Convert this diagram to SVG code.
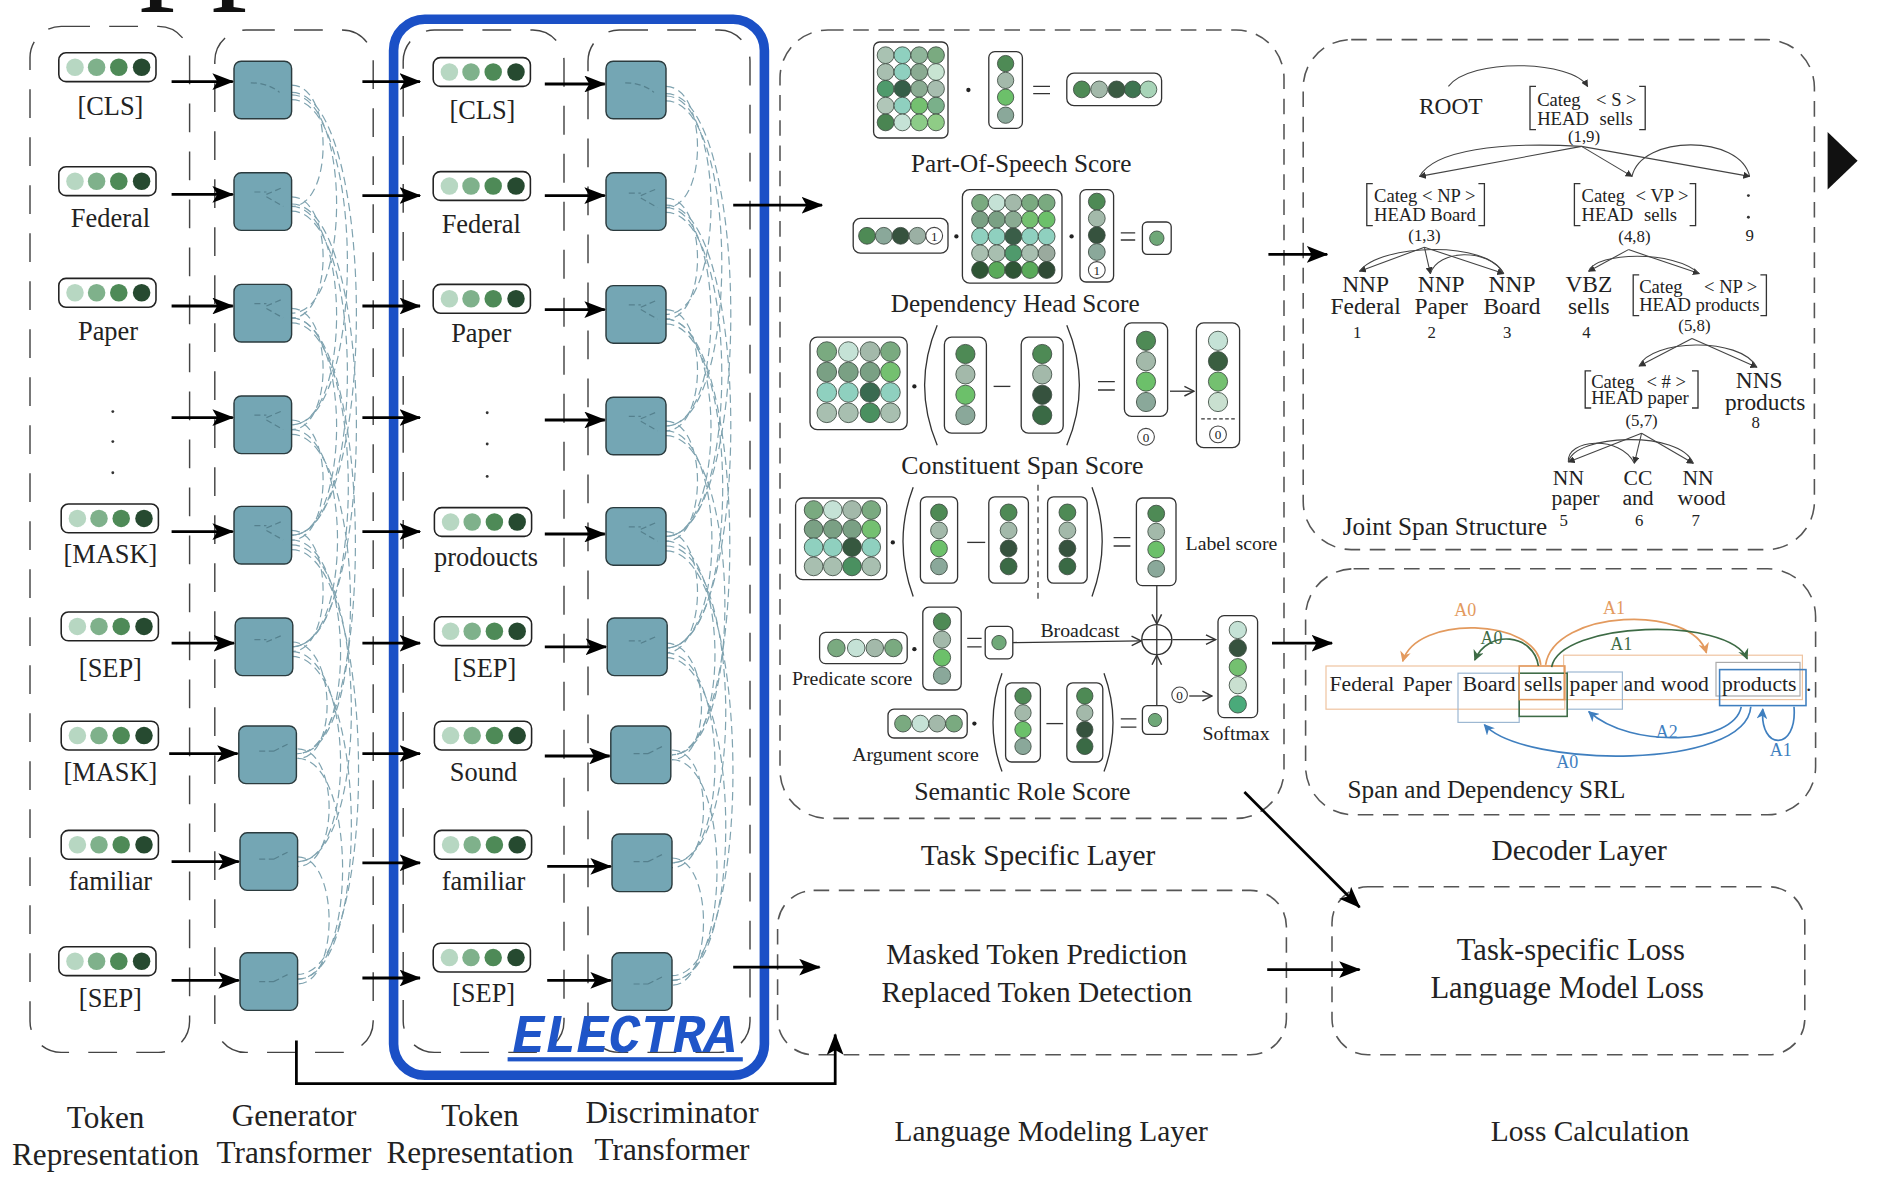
<svg xmlns="http://www.w3.org/2000/svg" width="1882" height="1184" viewBox="0 0 1882 1184">
<style>
text{font-family:"Liberation Serif","Times New Roman",serif;fill:#222}
.t22{font-size:22px}
.t26{font-size:26px;text-anchor:middle}
.t25{font-size:24.5px;text-anchor:middle}
.t21{font-size:21px}
.t16{font-size:16.5px}
.t19{font-size:19.5px;text-anchor:middle}
.t18{font-size:18px;text-anchor:middle}
.t15{font-size:15.5px}
.t14{font-size:14px;text-anchor:middle}
.sw{font-size:18px}
.mid{text-anchor:middle}
.colbox{fill:none;stroke:#444;stroke-width:1.2;stroke-dasharray:24 16}
.dbox{fill:none;stroke:#555;stroke-width:1.3;stroke-dasharray:13 8}
.arw{stroke:#000;stroke-width:2.3;fill:none;marker-end:url(#ah)}
.vb{fill:#fff;stroke:#333;stroke-width:1.1}
.c{stroke:#3c4a40;stroke-width:0.7}
.sq{fill:#74a6b4;stroke:#2b3b3e;stroke-width:1.2}
.fan{fill:none;stroke:#7fa3b0;stroke-width:1;stroke-dasharray:7 4}
.inn{fill:none;stroke:#55808d;stroke-width:1;stroke-dasharray:5 3}
.ln{stroke:#333;stroke-width:1.1;fill:none}
.sa{stroke:#333;stroke-width:1.1;fill:none;marker-end:url(#ch)}
.tl{stroke:#444;stroke-width:0.9;fill:none}
.tla{stroke:#444;stroke-width:0.9;fill:none;marker-end:url(#ta)}
.br{stroke:#333;stroke-width:1.1;fill:none}
.cn{fill:#fff;stroke:#444;stroke-width:0.9}
.or{stroke:#e39a5e;stroke-width:1.4;fill:none;marker-end:url(#mo)}
.gr{stroke:#3d6b45;stroke-width:1.4;fill:none;marker-end:url(#mg)}
.bl{stroke:#3f7fbf;stroke-width:1.4;fill:none;marker-end:url(#mb)}
</style>
<defs>
<marker id="ah" viewBox="0 0 18 14" refX="17" refY="7" markerWidth="18" markerHeight="14" markerUnits="userSpaceOnUse" orient="auto"><path d="M0,0 L18,7 L0,14 L4,7 z" fill="#000"/></marker>
<marker id="ch" viewBox="0 0 10 10" refX="9" refY="5" markerWidth="10" markerHeight="10" markerUnits="userSpaceOnUse" orient="auto"><path d="M1,1 L9,5 L1,9" fill="none" stroke="#333" stroke-width="1.2"/></marker>
<marker id="ta" viewBox="0 0 8 8" refX="7" refY="4" markerWidth="6" markerHeight="6" markerUnits="userSpaceOnUse" orient="auto"><path d="M0,0 L8,4 L0,8 z" fill="#333"/></marker>
<marker id="mo" viewBox="0 0 10 10" refX="9" refY="5" markerWidth="9" markerHeight="9" markerUnits="userSpaceOnUse" orient="auto"><path d="M0,0 L10,5 L0,10 L3,5 z" fill="#e39a5e"/></marker>
<marker id="mg" viewBox="0 0 10 10" refX="9" refY="5" markerWidth="9" markerHeight="9" markerUnits="userSpaceOnUse" orient="auto"><path d="M0,0 L10,5 L0,10 L3,5 z" fill="#3d6b45"/></marker>
<marker id="mb" viewBox="0 0 10 10" refX="9" refY="5" markerWidth="9" markerHeight="9" markerUnits="userSpaceOnUse" orient="auto"><path d="M0,0 L10,5 L0,10 L3,5 z" fill="#3f7fbf"/></marker>
<g id="tv"><rect x="0" y="0" width="81" height="24" rx="6" fill="#fff" stroke="#222" stroke-width="1.3"/><circle cx="13.5" cy="12" r="7.3" fill="#b7d7c2"/><circle cx="31.5" cy="12" r="7.3" fill="#7fb18b"/><circle cx="50" cy="12" r="7.3" fill="#4e8a57"/><circle cx="69" cy="12" r="7.3" fill="#264a30"/></g>
<g id="fan">
<path class="fan" d="M243,71 C278,71 278,172 243,172"/>
<path class="fan" d="M243,164 C278,164 278,265 243,265"/>
<path class="fan" d="M243,257 C278,257 278,358 243,358"/>
<path class="fan" d="M243,350 C278,350 278,450 243,450"/>
<path class="fan" d="M243,442 C278,442 278,543 243,543"/>
<path class="fan" d="M243,535 C280,535 283,632 248,632"/>
<path class="fan" d="M248,624 C283,624 283,722 248,722"/>
<path class="fan" d="M248,714 C283,714 283,820 248,820"/>
<path class="fan" d="M243,79 C293,79 293,261 243,261"/>
<path class="fan" d="M243,172 C293,172 293,354 243,354"/>
<path class="fan" d="M243,265 C293,265 293,446 243,446"/>
<path class="fan" d="M243,358 C293,358 295,539 243,539"/>
<path class="fan" d="M243,450 C295,450 298,628 248,628"/>
<path class="fan" d="M243,543 C295,543 298,718 248,718"/>
<path class="fan" d="M248,632 C298,632 298,816 248,816"/>
<path class="fan" d="M243,83 C305,83 305,354 243,354"/>
<path class="fan" d="M243,176 C305,176 305,446 243,446"/>
<path class="fan" d="M243,269 C305,269 307,539 243,539"/>
<path class="fan" d="M243,362 C305,362 310,628 248,628"/>
<path class="fan" d="M243,454 C307,454 310,718 248,718"/>
<path class="fan" d="M243,547 C307,547 310,816 248,816"/>
<path class="fan" d="M243,77 C315,77 315,446 243,446"/>
<path class="fan" d="M243,170 C315,170 315,539 243,539"/>
<path class="fan" d="M243,458 C315,458 318,812 248,812"/>
<path class="fan" d="M243,265 C312,265 314,628 248,628"/>
</g>
</defs>
<rect width="1882" height="1184" fill="#fff"/>
<g transform="scale(1.2)">

<g id="title-fragment"><text x="116" y="-16" style="font-size:120px;fill:#111">pp</text></g>

<!-- column containers -->
<g id="col-token-rep-1"><rect class="colbox" x="25" y="22" width="133" height="855" rx="26"/></g>
<g id="col-generator"><rect class="colbox" x="179" y="25" width="132" height="852" rx="26"/></g>
<g id="col-token-rep-2"><rect class="colbox" x="336" y="25" width="134" height="852" rx="26"/></g>
<g id="col-discriminator"><rect class="colbox" x="490" y="25" width="135" height="852" rx="26"/></g>

<!-- fans -->
<g id="generator-attention"><use href="#fan"/></g>
<g id="discriminator-attention"><use href="#fan" x="312" y="1"/></g>

<!-- token representation 1 -->
<g id="tok1-cls"><use href="#tv" x="49" y="44"/><text class="t22 mid" x="92" y="96">[CLS]</text></g>
<g id="tok1-federal"><use href="#tv" x="49" y="139"/><text class="t22 mid" x="92" y="189">Federal</text></g>
<g id="tok1-paper"><use href="#tv" x="49" y="232"/><text class="t22 mid" x="90" y="283">Paper</text></g>
<g id="tok1-dots"><circle cx="94" cy="343" r="1.2" fill="#333"/><circle cx="94" cy="368" r="1.2" fill="#333"/><circle cx="94" cy="394" r="1.2" fill="#333"/></g>
<g id="tok1-mask1"><use href="#tv" x="51" y="420"/><text class="t22 mid" x="92" y="469">[MASK]</text></g>
<g id="tok1-sep1"><use href="#tv" x="51" y="510"/><text class="t22 mid" x="92" y="564">[SEP]</text></g>
<g id="tok1-mask2"><use href="#tv" x="51" y="601"/><text class="t22 mid" x="92" y="651">[MASK]</text></g>
<g id="tok1-familiar"><use href="#tv" x="51" y="692"/><text class="t22 mid" x="92" y="742">familiar</text></g>
<g id="tok1-sep2"><use href="#tv" x="49" y="789"/><text class="t22 mid" x="92" y="839">[SEP]</text></g>

<!-- generator squares -->
<g id="gen-squares">
<rect class="sq" x="195" y="51" width="48" height="48" rx="6"/>
<rect class="sq" x="195" y="144" width="48" height="48" rx="6"/>
<rect class="sq" x="195" y="237" width="48" height="48" rx="6"/>
<rect class="sq" x="195" y="330" width="48" height="48" rx="6"/>
<rect class="sq" x="195" y="422" width="48" height="48" rx="6"/>
<rect class="sq" x="196" y="515" width="48" height="48" rx="6"/>
<rect class="sq" x="199" y="605" width="48" height="48" rx="6"/>
<rect class="sq" x="200" y="694" width="48" height="48" rx="6"/>
<rect class="sq" x="200" y="794" width="48" height="48" rx="6"/>
<path class="inn" d="M209,69 q14,0 24,8 M212,160 h10 M222,162 l14,-6 M222,164 l14,8 M212,253 h10 M222,255 l14,-6 M222,257 l14,8 M212,346 h10 M222,348 l14,-6 M222,350 l14,8 M212,438 h10 M222,440 l14,-6 M222,442 l14,8 M212,533 h10 M222,535 l14,-6 M216,626 h12 M228,626 l14,-7 M216,716 h12 M228,716 l14,-7 M216,818 h12 M228,818 l14,-7"/>
</g>

<!-- token representation 2 -->
<g id="tok2-cls"><use href="#tv" x="361" y="48"/><text class="t22 mid" x="402" y="99">[CLS]</text></g>
<g id="tok2-federal"><use href="#tv" x="361" y="143"/><text class="t22 mid" x="401" y="194">Federal</text></g>
<g id="tok2-paper"><use href="#tv" x="361" y="237"/><text class="t22 mid" x="401" y="285">Paper</text></g>
<g id="tok2-dots"><circle cx="406" cy="344" r="1.2" fill="#333"/><circle cx="406" cy="370" r="1.2" fill="#333"/><circle cx="406" cy="397" r="1.2" fill="#333"/></g>
<g id="tok2-prodoucts"><use href="#tv" x="362" y="423"/><text class="t22 mid" x="405" y="472">prodoucts</text></g>
<g id="tok2-sep1"><use href="#tv" x="362" y="514"/><text class="t22 mid" x="404" y="564">[SEP]</text></g>
<g id="tok2-sound"><use href="#tv" x="362" y="601"/><text class="t22 mid" x="403" y="651">Sound</text></g>
<g id="tok2-familiar"><use href="#tv" x="362" y="692"/><text class="t22 mid" x="403" y="742">familiar</text></g>
<g id="tok2-sep2"><use href="#tv" x="361" y="786"/><text class="t22 mid" x="403" y="835">[SEP]</text></g>

<!-- discriminator squares -->
<g id="disc-squares">
<rect class="sq" x="505" y="51" width="50" height="48" rx="6"/>
<rect class="sq" x="505" y="144" width="50" height="48" rx="6"/>
<rect class="sq" x="505" y="238" width="50" height="48" rx="6"/>
<rect class="sq" x="505" y="331" width="50" height="48" rx="6"/>
<rect class="sq" x="505" y="423" width="50" height="48" rx="6"/>
<rect class="sq" x="506" y="515" width="50" height="48" rx="6"/>
<rect class="sq" x="509" y="605" width="50" height="48" rx="6"/>
<rect class="sq" x="510" y="695" width="50" height="48" rx="6"/>
<rect class="sq" x="510" y="794" width="50" height="48" rx="6"/>
<path class="inn" d="M521,69 q14,0 24,8 M524,161 h10 M534,163 l14,-6 M534,165 l14,8 M524,254 h10 M534,256 l14,-6 M534,258 l14,8 M524,347 h10 M534,349 l14,-6 M534,351 l14,8 M524,439 h10 M534,441 l14,-6 M534,443 l14,8 M524,534 h10 M534,536 l14,-6 M528,628 h12 M540,628 l14,-7 M528,718 h12 M540,718 l14,-7 M528,820 h12 M540,820 l14,-7"/>
</g>

<!-- ELECTRA frame -->
<g id="electra">
<rect x="328" y="16" width="309" height="880" rx="26" fill="none" stroke="#1b50c6" stroke-width="8"/>
<text x="427" y="877" textLength="187" lengthAdjust="spacingAndGlyphs" style="font-family:'Liberation Mono','DejaVu Sans Mono',monospace;font-weight:bold;font-style:italic;font-size:45px;fill:#1f55c8">ELECTRA</text>
<rect x="423" y="881" width="196" height="3.5" fill="#1f55c8"/>
</g>

<!-- bottom column labels -->
<g id="labels-bottom">
<text class="t26" x="88" y="940">Token</text><text class="t26" x="88" y="971">Representation</text>
<text class="t26" x="245" y="938">Generator</text><text class="t26" x="245" y="969">Transformer</text>
<text class="t26" x="400" y="938">Token</text><text class="t26" x="400" y="969">Representation</text>
<text class="t26" x="560" y="936">Discriminator</text><text class="t26" x="560" y="967">Transformer</text>
</g>

<!-- Task specific layer -->
<g id="task-specific-layer">
<rect class="dbox" x="650" y="25" width="420" height="657" rx="40"/>
<text class="t25" x="865" y="721">Task Specific Layer</text>

<!-- POS -->
<g id="pos-score">
<rect class="vb" x="728" y="35" width="62" height="80" rx="5"/>
<circle class="c" cx="738" cy="46" r="7" fill="#a9c2b2"/><circle class="c" cx="752" cy="46" r="7" fill="#8fd0bf"/><circle class="c" cx="766" cy="46" r="7" fill="#8fb59a"/><circle class="c" cx="780" cy="46" r="7" fill="#7aaa80"/>
<circle class="c" cx="738" cy="60" r="7" fill="#a8bfb0"/><circle class="c" cx="752" cy="60" r="7" fill="#8fd0bf"/><circle class="c" cx="766" cy="60" r="7" fill="#8aab92"/><circle class="c" cx="780" cy="60" r="7" fill="#c8e4d2"/>
<circle class="c" cx="738" cy="74" r="7" fill="#4f9a6c"/><circle class="c" cx="752" cy="74" r="7" fill="#355e48"/><circle class="c" cx="766" cy="74" r="7" fill="#8aab92"/><circle class="c" cx="780" cy="74" r="7" fill="#a7bdaf"/>
<circle class="c" cx="738" cy="88" r="7" fill="#b0c6b8"/><circle class="c" cx="752" cy="88" r="7" fill="#8fd0bf"/><circle class="c" cx="766" cy="88" r="7" fill="#74c070"/><circle class="c" cx="780" cy="88" r="7" fill="#7ab08a"/>
<circle class="c" cx="738" cy="102" r="7" fill="#4a8552"/><circle class="c" cx="752" cy="102" r="7" fill="#c5e2d6"/><circle class="c" cx="766" cy="102" r="7" fill="#8ccc88"/><circle class="c" cx="780" cy="102" r="7" fill="#8fcc86"/>
<circle cx="807" cy="75" r="1.8" fill="#222"/>
<rect class="vb" x="824" y="43" width="28" height="64" rx="5"/>
<circle class="c" cx="838" cy="53" r="6.8" fill="#4e8a55"/><circle class="c" cx="838" cy="67" r="6.8" fill="#a3b9aa"/><circle class="c" cx="838" cy="81" r="6.8" fill="#6cc06a"/><circle class="c" cx="838" cy="96" r="6.8" fill="#8aa89a"/>
<path class="ln" d="M861,72H875 M861,78H875"/>
<rect class="vb" x="889" y="61" width="79" height="27" rx="6"/>
<circle class="c" cx="901.5" cy="74.5" r="7" fill="#4e8a55"/><circle class="c" cx="916" cy="74.5" r="7" fill="#a3b9aa"/><circle class="c" cx="930.5" cy="74.5" r="7" fill="#3a5a42"/><circle class="c" cx="944" cy="74.5" r="7" fill="#3e7450"/><circle class="c" cx="957" cy="74.5" r="7" fill="#a8d4b8"/>
<text class="t21 mid" x="851" y="143">Part-Of-Speech Score</text>
</g>

<!-- Dependency -->
<g id="dep-score">
<rect class="vb" x="711" y="182" width="79" height="29" rx="6"/>
<circle class="c" cx="722.5" cy="196.5" r="7" fill="#4e8a55"/><circle class="c" cx="736.5" cy="196.5" r="7" fill="#8aa89a"/><circle class="c" cx="750.5" cy="196.5" r="7" fill="#36523e"/><circle class="c" cx="764.5" cy="196.5" r="7" fill="#9bb0a4"/>
<circle class="cn" cx="778.5" cy="196.5" r="7"/><text x="778.5" y="200.5" class="mid" style="font-size:11px">1</text>
<circle cx="797" cy="197" r="1.8" fill="#222"/>
<rect class="vb" x="802" y="158" width="83" height="78" rx="6"/>
<circle class="c" cx="816.7" cy="169" r="7" fill="#7aaa80"/><circle class="c" cx="830.6" cy="169" r="7" fill="#c5e2d6"/><circle class="c" cx="844.4" cy="169" r="7" fill="#a3b9aa"/><circle class="c" cx="858.3" cy="169" r="7" fill="#7aaa80"/><circle class="c" cx="872.2" cy="169" r="7" fill="#7aaa80"/>
<circle class="c" cx="816.7" cy="183" r="7" fill="#7aa084"/><circle class="c" cx="830.6" cy="183" r="7" fill="#7aa084"/><circle class="c" cx="844.4" cy="183" r="7" fill="#8aab92"/><circle class="c" cx="858.3" cy="183" r="7" fill="#74c070"/><circle class="c" cx="872.2" cy="183" r="7" fill="#6cc06a"/>
<circle class="c" cx="816.7" cy="197" r="7" fill="#8fd0bf"/><circle class="c" cx="830.6" cy="197" r="7" fill="#8fd0bf"/><circle class="c" cx="844.4" cy="197" r="7" fill="#3a5e48"/><circle class="c" cx="858.3" cy="197" r="7" fill="#8fd0bf"/><circle class="c" cx="872.2" cy="197" r="7" fill="#8fd0bf"/>
<circle class="c" cx="816.7" cy="211" r="7" fill="#a8bfb0"/><circle class="c" cx="830.6" cy="211" r="7" fill="#a8bfb0"/><circle class="c" cx="844.4" cy="211" r="7" fill="#4f9a6c"/><circle class="c" cx="858.3" cy="211" r="7" fill="#a8bfb0"/><circle class="c" cx="872.2" cy="211" r="7" fill="#9aaa9e"/>
<circle class="c" cx="816.7" cy="225" r="7" fill="#2f5535"/><circle class="c" cx="830.6" cy="225" r="7" fill="#5aaa5a"/><circle class="c" cx="844.4" cy="225" r="7" fill="#2f5535"/><circle class="c" cx="858.3" cy="225" r="7" fill="#5aaa5a"/><circle class="c" cx="872.2" cy="225" r="7" fill="#2f4a35"/>
<circle cx="893" cy="197" r="1.8" fill="#222"/>
<rect class="vb" x="900" y="158" width="28" height="77" rx="5"/>
<circle class="c" cx="914" cy="168" r="7" fill="#4e8a55"/><circle class="c" cx="914" cy="182" r="7" fill="#a3b9aa"/><circle class="c" cx="914" cy="196" r="7" fill="#36523e"/><circle class="c" cx="914" cy="210" r="7" fill="#8aa89a"/>
<circle class="cn" cx="914" cy="225" r="7"/><text x="914" y="229" class="mid" style="font-size:11px">1</text>
<path class="ln" d="M934,194H946 M934,200H946"/>
<rect class="vb" x="952" y="185" width="24" height="27" rx="4"/>
<circle class="c" cx="964" cy="198.5" r="6" fill="#6fa878"/>
<text class="t21 mid" x="846" y="260">Dependency Head Score</text>
</g>

<!-- Constituent -->
<g id="constituent-score">
<rect class="vb" x="675" y="281" width="81" height="77" rx="6"/>
<circle class="c" cx="689" cy="293" r="8.2" fill="#7aaa80"/><circle class="c" cx="707" cy="293" r="8.2" fill="#c5e2d6"/><circle class="c" cx="725" cy="293" r="8.2" fill="#a3b9aa"/><circle class="c" cx="742" cy="293" r="8.2" fill="#7aaa80"/>
<circle class="c" cx="689" cy="310" r="8.2" fill="#7aa084"/><circle class="c" cx="707" cy="310" r="8.2" fill="#7aa084"/><circle class="c" cx="725" cy="310" r="8.2" fill="#7aa084"/><circle class="c" cx="742" cy="310" r="8.2" fill="#74c070"/>
<circle class="c" cx="689" cy="327" r="8.2" fill="#8fd0bf"/><circle class="c" cx="707" cy="327" r="8.2" fill="#8fd0bf"/><circle class="c" cx="725" cy="327" r="8.2" fill="#3a6a50"/><circle class="c" cx="742" cy="327" r="8.2" fill="#8fd0bf"/>
<circle class="c" cx="689" cy="344" r="8.2" fill="#a8bfb0"/><circle class="c" cx="707" cy="344" r="8.2" fill="#a8bfb0"/><circle class="c" cx="725" cy="344" r="8.2" fill="#4a9060"/><circle class="c" cx="742" cy="344" r="8.2" fill="#a8bfb0"/>
<circle cx="762" cy="322" r="1.8" fill="#222"/>
<path class="ln" d="M781,271 Q760,321 781,371"/>
<rect class="vb" x="787" y="281" width="35" height="80" rx="6"/>
<circle class="c" cx="804.5" cy="295" r="8" fill="#4e8a55"/><circle class="c" cx="804.5" cy="312" r="8" fill="#a3b9aa"/><circle class="c" cx="804.5" cy="329" r="8" fill="#6cc06a"/><circle class="c" cx="804.5" cy="346" r="8" fill="#8aa89a"/>
<path class="ln" d="M828,322H842"/>
<rect class="vb" x="851" y="281" width="35" height="80" rx="6"/>
<circle class="c" cx="868.5" cy="295" r="8" fill="#4e8a55"/><circle class="c" cx="868.5" cy="312" r="8" fill="#a3b9aa"/><circle class="c" cx="868.5" cy="329" r="8" fill="#36523e"/><circle class="c" cx="868.5" cy="346" r="8" fill="#3a6a45"/>
<path class="ln" d="M889,271 Q910,321 889,371"/>
<path class="ln" d="M915,318H929 M915,325H929"/>
<rect class="vb" x="937" y="269" width="36" height="78" rx="6"/>
<circle class="c" cx="955" cy="284" r="8" fill="#4e8a55"/><circle class="c" cx="955" cy="301" r="8" fill="#a3b9aa"/><circle class="c" cx="955" cy="318" r="8" fill="#6cc06a"/><circle class="c" cx="955" cy="335" r="8" fill="#8aa89a"/>
<circle class="cn" cx="955" cy="364" r="7"/><text x="955" y="368" class="mid" style="font-size:11px">0</text>
<path class="sa" d="M975,326H995"/>
<rect class="vb" x="997" y="269" width="36" height="104" rx="6"/>
<circle class="c" cx="1015" cy="284" r="8" fill="#c5e2d6"/><circle class="c" cx="1015" cy="301" r="8" fill="#3a5e40"/><circle class="c" cx="1015" cy="318" r="8" fill="#74c070"/><circle class="c" cx="1015" cy="335" r="8" fill="#c9e0d0"/>
<path d="M1001,349H1029" stroke="#333" stroke-width="1" stroke-dasharray="3 2"/>
<circle class="cn" cx="1015" cy="362" r="7"/><text x="1015" y="366" class="mid" style="font-size:11px">0</text>
<text class="mid" x="852" y="395" style="font-size:21.5px">Constituent Span Score</text>
</g>

<!-- Semantic Role -->
<g id="semantic-role-score">
<rect class="vb" x="663" y="415" width="76" height="68" rx="6"/>
<circle class="c" cx="678" cy="425" r="7.8" fill="#7aaa80"/><circle class="c" cx="694" cy="425" r="7.8" fill="#c5e2d6"/><circle class="c" cx="710" cy="425" r="7.8" fill="#a3b9aa"/><circle class="c" cx="726" cy="425" r="7.8" fill="#7aaa80"/>
<circle class="c" cx="678" cy="441" r="7.8" fill="#7aa084"/><circle class="c" cx="694" cy="441" r="7.8" fill="#7aa084"/><circle class="c" cx="710" cy="441" r="7.8" fill="#7aa084"/><circle class="c" cx="726" cy="441" r="7.8" fill="#74c070"/>
<circle class="c" cx="678" cy="456" r="7.8" fill="#8fd0bf"/><circle class="c" cx="694" cy="456" r="7.8" fill="#8fd0bf"/><circle class="c" cx="710" cy="456" r="7.8" fill="#36583f"/><circle class="c" cx="726" cy="456" r="7.8" fill="#8fd0bf"/>
<circle class="c" cx="678" cy="472" r="7.8" fill="#a8bfb0"/><circle class="c" cx="694" cy="472" r="7.8" fill="#a8bfb0"/><circle class="c" cx="710" cy="472" r="7.8" fill="#4a9060"/><circle class="c" cx="726" cy="472" r="7.8" fill="#a8bfb0"/>
<circle cx="744" cy="452" r="1.8" fill="#222"/>
<path class="ln" d="M761,406 Q744,451 761,497"/>
<rect class="vb" x="767" y="414" width="31" height="72" rx="5"/>
<circle class="c" cx="782.5" cy="427" r="7" fill="#4e8a55"/><circle class="c" cx="782.5" cy="442" r="7" fill="#a3b9aa"/><circle class="c" cx="782.5" cy="457" r="7" fill="#6cc06a"/><circle class="c" cx="782.5" cy="472" r="7" fill="#8aa89a"/>
<path class="ln" d="M806,452H821"/>
<rect class="vb" x="824" y="414" width="33" height="72" rx="5"/>
<circle class="c" cx="840.5" cy="427" r="7" fill="#4e8a55"/><circle class="c" cx="840.5" cy="442" r="7" fill="#a3b9aa"/><circle class="c" cx="840.5" cy="457" r="7" fill="#36523e"/><circle class="c" cx="840.5" cy="472" r="7" fill="#3a6a45"/>
<path d="M865,404V500" stroke="#333" stroke-width="1" stroke-dasharray="5 4"/>
<rect class="vb" x="873" y="414" width="33" height="72" rx="5"/>
<circle class="c" cx="889.5" cy="427" r="7" fill="#4e8a55"/><circle class="c" cx="889.5" cy="442" r="7" fill="#a3b9aa"/><circle class="c" cx="889.5" cy="457" r="7" fill="#36523e"/><circle class="c" cx="889.5" cy="472" r="7" fill="#3a6a45"/>
<path class="ln" d="M910,406 Q927,451 910,497"/>
<path class="ln" d="M928,448H942 M928,455H942"/>
<rect class="vb" x="947" y="415" width="33" height="73" rx="5"/>
<circle class="c" cx="963.5" cy="428" r="7" fill="#4e8a55"/><circle class="c" cx="963.5" cy="443" r="7" fill="#a3b9aa"/><circle class="c" cx="963.5" cy="458" r="7" fill="#6cc06a"/><circle class="c" cx="963.5" cy="474" r="7" fill="#8aa89a"/>
<text class="t16" x="988" y="458">Label score</text>
<path class="sa" d="M964,488V520"/>
<circle cx="964" cy="533" r="12.5" fill="#fff" stroke="#333" stroke-width="1.2"/>
<path class="ln" d="M952,533H976 M964,521V545"/>
<rect class="vb" x="683" y="527" width="73" height="26" rx="5"/>
<circle class="c" cx="697" cy="540" r="7.3" fill="#7aaa80"/><circle class="c" cx="713.5" cy="540" r="7.3" fill="#c5e2d6"/><circle class="c" cx="729" cy="540" r="7.3" fill="#a3b9aa"/><circle class="c" cx="744.5" cy="540" r="7.3" fill="#7aaa80"/>
<text class="t16" x="660" y="571">Predicate score</text>
<circle cx="762" cy="541" r="1.8" fill="#222"/>
<rect class="vb" x="769" y="506" width="32" height="69" rx="5"/>
<circle class="c" cx="785" cy="518" r="7.2" fill="#4e8a55"/><circle class="c" cx="785" cy="533" r="7.2" fill="#a3b9aa"/><circle class="c" cx="785" cy="548" r="7.2" fill="#6cc06a"/><circle class="c" cx="785" cy="563" r="7.2" fill="#8aa89a"/>
<path class="ln" d="M806,532H818 M806,539H818"/>
<rect class="vb" x="821" y="522" width="23" height="27" rx="4"/>
<circle class="c" cx="832.5" cy="535.5" r="6" fill="#6fa878"/>
<path class="sa" d="M844,535.5 L951,534"/>
<text class="t16 mid" x="900" y="531">Broadcast</text>
<path class="sa" d="M977,533H1013"/>
<rect class="vb" x="1015" y="513" width="33" height="85" rx="5"/>
<circle class="c" cx="1031.5" cy="525" r="7.2" fill="#c5e2d6"/><circle class="c" cx="1031.5" cy="540" r="7.2" fill="#36523e"/><circle class="c" cx="1031.5" cy="556" r="7.2" fill="#74c070"/><circle class="c" cx="1031.5" cy="571" r="7.2" fill="#c9e0d0"/><circle class="c" cx="1031.5" cy="587" r="7.2" fill="#4aaa7a"/>
<text class="t16 mid" x="1030" y="617">Softmax</text>
<circle class="cn" cx="983" cy="579" r="6.5"/><text x="983" y="583" class="mid" style="font-size:11px">0</text>
<path class="sa" d="M991,580H1010"/>
<rect class="vb" x="740" y="591" width="66" height="24" rx="5"/>
<circle class="c" cx="752.5" cy="603" r="7" fill="#7aaa80"/><circle class="c" cx="767" cy="603" r="7" fill="#c5e2d6"/><circle class="c" cx="781" cy="603" r="7" fill="#a3b9aa"/><circle class="c" cx="795" cy="603" r="7" fill="#7aaa80"/>
<text class="t16 mid" x="763" y="634">Argument score</text>
<circle cx="812" cy="603" r="1.8" fill="#222"/>
<path class="ln" d="M835,561 Q820,602 835,643"/>
<rect class="vb" x="838" y="569" width="29" height="66" rx="5"/>
<circle class="c" cx="852.5" cy="580" r="6.8" fill="#4e8a55"/><circle class="c" cx="852.5" cy="594" r="6.8" fill="#a3b9aa"/><circle class="c" cx="852.5" cy="608" r="6.8" fill="#6cc06a"/><circle class="c" cx="852.5" cy="622" r="6.8" fill="#8aa89a"/>
<path class="ln" d="M872,603H886"/>
<rect class="vb" x="889" y="569" width="30" height="66" rx="5"/>
<circle class="c" cx="904" cy="580" r="6.8" fill="#4e8a55"/><circle class="c" cx="904" cy="594" r="6.8" fill="#a3b9aa"/><circle class="c" cx="904" cy="608" r="6.8" fill="#36523e"/><circle class="c" cx="904" cy="622" r="6.8" fill="#3a6a45"/>
<path class="ln" d="M920,561 Q935,602 920,643"/>
<path class="ln" d="M934,599H947 M934,606H947"/>
<rect class="vb" x="952" y="588" width="21" height="24" rx="4"/>
<circle class="c" cx="962.5" cy="600" r="5.5" fill="#6fa878"/>
<path class="sa" d="M964,588V546"/>
<text class="mid" x="852" y="667" style="font-size:21.5px">Semantic Role Score</text>
</g>
</g>

<!-- Decoder layer: joint span structure -->
<g id="joint-span-structure">
<rect class="dbox" x="1086" y="33" width="426" height="425" rx="40"/>
<text x="1209" y="95" class="t19">ROOT</text>
<path class="tla" d="M1207,72 C1225,48 1310,50 1323,72"/>
<path class="br" d="M1280,72 H1275 V108 H1280 M1366,72 H1371 V108 H1366"/>
<text class="t15" x="1281" y="88">Categ</text><text class="t15" x="1330" y="88">&lt; S &gt;</text>
<text class="t15" x="1281" y="104">HEAD</text><text class="t15" x="1333" y="104">sells</text>
<text class="t14" x="1320" y="118">(1,9)</text>
<path class="tla" d="M1318,122 L1183,147"/><path class="tla" d="M1318,122 L1360,147"/><path class="tla" d="M1318,122 L1458,147"/>
<path class="tl" d="M1318,122 C1250,118 1195,125 1183,147"/><path class="tl" d="M1360,147 C1368,112 1450,112 1458,147"/>
<path class="br" d="M1144,153 H1139 V188 H1144 M1232,153 H1237 V188 H1232"/>
<text class="t15" x="1145" y="168">Categ &lt; NP &gt;</text><text class="t15" x="1145" y="184">HEAD Board</text>
<text class="t14" x="1187" y="201">(1,3)</text>
<path class="br" d="M1317,153 H1312 V188 H1317 M1408,153 H1413 V188 H1408"/>
<text class="t15" x="1318" y="168">Categ</text><text class="t15" x="1363" y="168">&lt; VP &gt;</text>
<text class="t15" x="1318" y="184">HEAD</text><text class="t15" x="1370" y="184">sells</text>
<text class="t14" x="1362" y="202">(4,8)</text>
<circle cx="1457" cy="163" r="1.2" fill="#333"/><circle cx="1457" cy="181" r="1.2" fill="#333"/>
<text class="t14" x="1458" y="201">9</text>
<path class="tla" d="M1187,206 L1133,226"/><path class="tla" d="M1187,206 L1192,228"/><path class="tla" d="M1187,206 L1253,228"/>
<path class="tl" d="M1133,226 C1150,203 1240,200 1253,228"/><path class="tl" d="M1192,228 C1198,208 1240,206 1253,228"/>
<text class="t19" x="1138" y="243">NNP</text><text class="t19" x="1138" y="262">Federal</text><text class="t14" x="1131" y="282">1</text>
<text class="t19" x="1201" y="243">NNP</text><text class="t19" x="1201" y="262">Paper</text><text class="t14" x="1193" y="282">2</text>
<text class="t19" x="1260" y="243">NNP</text><text class="t19" x="1260" y="262">Board</text><text class="t14" x="1256" y="282">3</text>
<path class="tla" d="M1357,208 L1324,226"/><path class="tla" d="M1357,208 L1416,228"/>
<path class="tl" d="M1324,226 C1330,210 1395,208 1416,228"/>
<text class="t19" x="1324" y="243">VBZ</text><text class="t19" x="1324" y="262">sells</text><text class="t14" x="1322" y="282">4</text>
<path class="br" d="M1366,229 H1361 V263 H1366 M1467,229 H1472 V263 H1467"/>
<text class="t15" x="1366" y="244">Categ</text><text class="t15" x="1420" y="244">&lt; NP &gt;</text>
<text class="t15" x="1366" y="259">HEAD products</text>
<text class="t14" x="1412" y="276">(5,8)</text>
<path class="tla" d="M1410,282 L1366,305"/><path class="tla" d="M1410,282 L1464,306"/>
<path class="tl" d="M1366,305 C1375,283 1450,280 1464,306"/>
<path class="br" d="M1326,309 H1321 V340 H1326 M1410,309 H1415 V340 H1410"/>
<text class="t15" x="1326" y="323">Categ</text><text class="t15" x="1372" y="323">&lt; # &gt;</text>
<text class="t15" x="1326" y="337">HEAD paper</text>
<text class="t14" x="1368" y="355">(5,7)</text>
<text class="t19" x="1466" y="323">NNS</text><text class="t19" x="1471" y="342">products</text><text class="t14" x="1463" y="357">8</text>
<path class="tla" d="M1368,361 L1307,385"/><path class="tla" d="M1368,361 L1362,386"/><path class="tla" d="M1368,361 L1411,386"/>
<path class="tl" d="M1307,385 C1305,366 1350,362 1362,386"/><path class="tl" d="M1307,385 C1312,362 1400,358 1411,386"/>
<text class="t18" x="1307" y="404">NN</text><text class="t18" x="1313" y="421">paper</text><text class="t14" x="1303" y="438">5</text>
<text class="t18" x="1365" y="404">CC</text><text class="t18" x="1365" y="421">and</text><text class="t14" x="1366" y="438">6</text>
<text class="t18" x="1415" y="404">NN</text><text class="t18" x="1418" y="421">wood</text><text class="t14" x="1413" y="438">7</text>
<text class="t21" x="1119" y="446">Joint Span Structure</text>
</g>

<!-- Decoder layer: SRL -->
<g id="span-dependency-srl">
<rect class="dbox" x="1088" y="474" width="425" height="205" rx="40"/>
<rect x="1105" y="555" width="199" height="36" fill="none" stroke="#efc4a0" stroke-width="1"/>
<rect x="1303" y="546" width="199" height="37" fill="none" stroke="#efc4a0" stroke-width="1"/>
<rect x="1215" y="561" width="51" height="41" fill="none" stroke="#9db8d2" stroke-width="1"/>
<rect x="1306" y="560" width="46" height="31" fill="none" stroke="#9db8d2" stroke-width="1"/>
<rect x="1430" y="552" width="70" height="28" fill="none" stroke="#aaa" stroke-width="1"/>
<rect x="1433" y="558" width="72" height="30" fill="none" stroke="#3f7fbf" stroke-width="1.3"/>
<rect x="1266" y="561" width="40" height="36" fill="none" stroke="#3d6b45" stroke-width="1.3"/>
<rect x="1266" y="555" width="38" height="28" fill="none" stroke="#e39a5e" stroke-width="1.3"/>
<text class="sw" x="1108" y="576">Federal</text><text class="sw" x="1169" y="576">Paper</text><text class="sw" x="1219" y="576">Board</text><text class="sw" x="1270" y="576">sells</text><text class="sw" x="1308" y="576">paper</text><text class="sw" x="1353" y="576">and</text><text class="sw" x="1384" y="576">wood</text><text class="sw" x="1435" y="576">products</text><text class="sw" x="1505" y="576">.</text>
<path class="or" d="M1284,554 C1280,515 1180,512 1169,551"/>
<path class="gr" d="M1282,555 C1278,528 1240,524 1229,550"/>
<path class="or" d="M1288,554 C1295,508 1410,503 1422,544"/>
<path class="gr" d="M1293,556 C1300,518 1440,513 1456,549"/>
<path class="bl" d="M1451,589 C1445,620 1360,625 1324,593"/>
<path class="bl" d="M1459,589 C1455,642 1270,640 1237,604"/>
<path class="bl" d="M1495,589 C1498,626 1466,626 1469,591"/>
<text class="mid" x="1221" y="513" style="font-size:15px;fill:#e39a5e">A0</text>
<text class="mid" x="1243" y="537" style="font-size:15px;fill:#3d6b45">A0</text>
<text class="mid" x="1345" y="512" style="font-size:15px;fill:#e39a5e">A1</text>
<text class="mid" x="1351" y="542" style="font-size:15px;fill:#3d6b45">A1</text>
<text class="mid" x="1389" y="615" style="font-size:15px;fill:#3f7fbf">A2</text>
<text class="mid" x="1306" y="640" style="font-size:15px;fill:#3f7fbf">A0</text>
<text class="mid" x="1484" y="630" style="font-size:15px;fill:#3f7fbf">A1</text>
<text class="t21" x="1123" y="665">Span and Dependency SRL</text>
</g>
<text class="t25" x="1316" y="717">Decoder Layer</text>
<g id="next-marker"><path d="M1523,110 L1548,134 L1523,158 z" fill="#111"/></g>

<!-- Language modeling layer -->
<g id="language-modeling-layer">
<rect class="dbox" x="648" y="742" width="424" height="137" rx="30"/>
<text class="mid" x="864" y="803" style="font-size:24.5px">Masked Token Prediction</text>
<text class="mid" x="864" y="835" style="font-size:24.5px">Replaced Token Detection</text>
<text class="t25" x="876" y="951">Language Modeling Layer</text>
</g>

<!-- Loss -->
<g id="loss-calculation">
<rect class="dbox" x="1110" y="739" width="394" height="140" rx="30"/>
<text class="mid" x="1309" y="800" style="font-size:25.5px">Task-specific Loss</text>
<text class="mid" x="1306" y="832" style="font-size:25.5px">Language Model Loss</text>
<text class="t25" x="1325" y="951">Loss Calculation</text>
</g>

<!-- connectors -->
<g id="connectors">
<path class="arw" d="M143,68H194"/><path class="arw" d="M143,162H194"/><path class="arw" d="M143,255H194"/><path class="arw" d="M143,348H194"/><path class="arw" d="M143,443H194"/><path class="arw" d="M143,536H195"/><path class="arw" d="M141,628H198"/><path class="arw" d="M143,718H199"/><path class="arw" d="M143,817H199"/>
<path class="arw" d="M302,68H350"/><path class="arw" d="M302,163H350"/><path class="arw" d="M302,255H350"/><path class="arw" d="M302,348H350"/><path class="arw" d="M302,443H350"/><path class="arw" d="M302,536H350"/><path class="arw" d="M302,628H350"/><path class="arw" d="M302,719H350"/><path class="arw" d="M302,815H350"/>
<path class="arw" d="M454,70H504"/><path class="arw" d="M454,163H504"/><path class="arw" d="M454,258H504"/><path class="arw" d="M454,350H504"/><path class="arw" d="M454,445H504"/><path class="arw" d="M454,539H505"/><path class="arw" d="M454,630H508"/><path class="arw" d="M456,722H509"/><path class="arw" d="M456,817H509"/>
<path class="arw" d="M611,171H685"/>
<path class="arw" d="M611,806H683"/>
<path class="arw" d="M247,867 V903 H696 V862"/>
<path class="arw" d="M1057,212H1106"/>
<path class="arw" d="M1060,536H1110"/>
<path class="arw" d="M1056,808H1133"/>
<path class="arw" d="M1037,660 L1133,756"/>
</g>
</g>
</svg>
